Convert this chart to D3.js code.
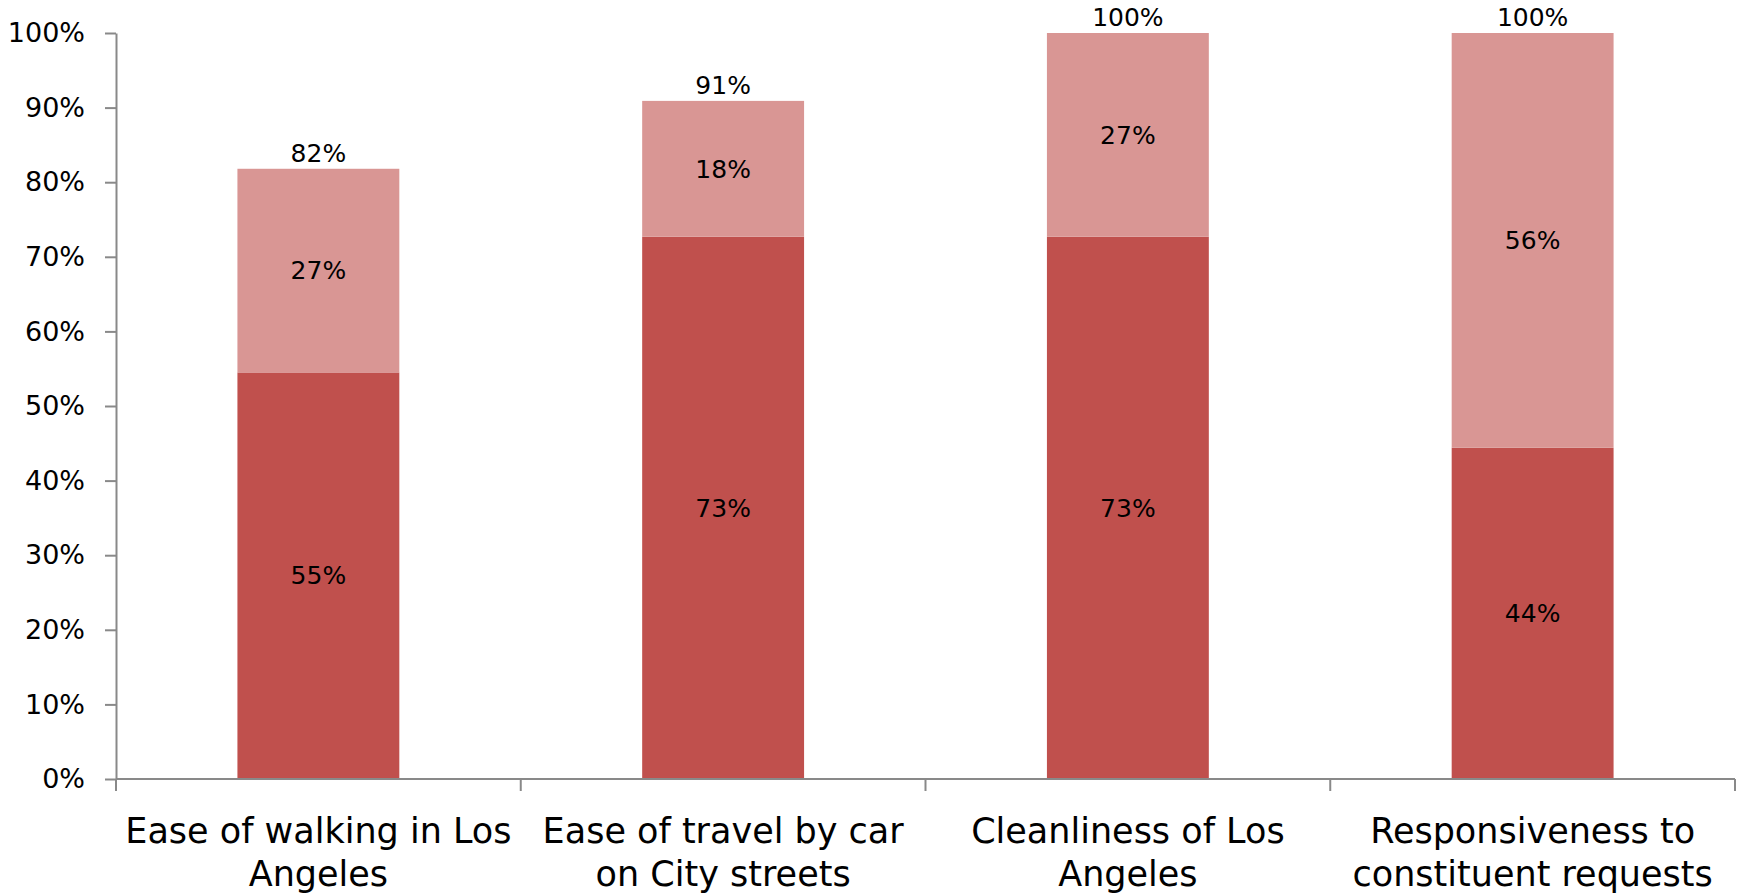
<!DOCTYPE html>
<html>
<head>
<meta charset="utf-8">
<script src="https://cdn.jsdelivr.net/npm/d3@7"></script>
<style>
  body { margin: 0; background: #fff; }
  svg text { font-family: "DejaVu Sans", sans-serif; fill: #000; }
</style>
</head>
<body>
<div id="chart"></div>
<script>
// data
const categories = [
  ["Ease of walking in Los", "Angeles"],
  ["Ease of travel by car", "on City streets"],
  ["Cleanliness of Los", "Angeles"],
  ["Responsiveness to", "constituent requests"]
];
const lowerValues = [54.5, 72.7, 72.7, 44.4];
const upperValues = [27.3, 18.2, 27.3, 55.6];
const yTicks = [0, 10, 20, 30, 40, 50, 60, 70, 80, 90, 100];

const lowerColor = "#c0504d";
const upperColor = "#d99694";
const axisColor = "#898989";

const outerWidth = 1743;
const outerHeight = 895;
const margin = { top: 33, right: 8, bottom: 116, left: 116 };
const width = outerWidth - margin.left - margin.right;
const height = outerHeight - margin.top - margin.bottom;

const svg = d3.select("#chart").append("svg")
  .attr("width", outerWidth)
  .attr("height", outerHeight)
  .append("g")
  .attr("transform", `translate(${margin.left},${margin.top})`);

const x = d3.scaleBand()
  .domain(d3.range(categories.length))
  .range([0, width])
  .paddingInner(0.6)
  .paddingOuter(0.3);

const y = d3.scaleLinear()
  .domain([0, 100])
  .range([height, 0]);

// bars
const rows = categories.map((c, i) => ({
  i: i,
  lower: lowerValues[i],
  upper: upperValues[i],
  total: lowerValues[i] + upperValues[i]
}));

const bars = svg.selectAll(".bar").data(rows).enter().append("g").attr("class", "bar");

bars.append("rect")
  .attr("x", d => x(d.i))
  .attr("width", x.bandwidth())
  .attr("y", d => y(d.lower))
  .attr("height", d => y(0) - y(d.lower))
  .attr("fill", lowerColor);

bars.append("rect")
  .attr("x", d => x(d.i))
  .attr("width", x.bandwidth())
  .attr("y", d => y(d.total))
  .attr("height", d => y(d.lower) - y(d.total))
  .attr("fill", upperColor);

const labelSize = 25;
bars.append("text")
  .attr("x", d => x(d.i) + x.bandwidth() / 2)
  .attr("y", d => y(d.lower / 2))
  .attr("dy", "0.35em")
  .attr("text-anchor", "middle")
  .style("font-size", labelSize + "px")
  .text(d => Math.round(d.lower) + "%");

bars.append("text")
  .attr("x", d => x(d.i) + x.bandwidth() / 2)
  .attr("y", d => y(d.lower + d.upper / 2))
  .attr("dy", "0.35em")
  .attr("text-anchor", "middle")
  .style("font-size", labelSize + "px")
  .text(d => Math.round(d.upper) + "%");

bars.append("text")
  .attr("x", d => x(d.i) + x.bandwidth() / 2)
  .attr("y", d => y(d.total) - 7)
  .attr("text-anchor", "middle")
  .style("font-size", labelSize + "px")
  .text(d => Math.round(d.total) + "%");

// y axis
const yAxis = d3.axisLeft(y)
  .tickValues(yTicks)
  .tickFormat(d => d + "%")
  .tickSizeInner(11)
  .tickSizeOuter(0)
  .tickPadding(20);

const gy = svg.append("g").call(yAxis);
gy.select(".domain").attr("stroke", axisColor).attr("stroke-width", 2);
gy.selectAll(".tick line").attr("stroke", axisColor).attr("stroke-width", 2);
gy.selectAll(".tick text").style("font-size", "27px").attr("fill", "#000");

// x axis: line plus ticks at category boundaries
const gx = svg.append("g").attr("transform", `translate(0,${height})`);
gx.append("line")
  .attr("x1", 0).attr("x2", width)
  .attr("stroke", axisColor).attr("stroke-width", 2);

const boundaries = d3.range(categories.length + 1).map(i => i * x.step());
gx.selectAll(".btick").data(boundaries).enter().append("line")
  .attr("x1", d => d).attr("x2", d => d)
  .attr("y1", 0).attr("y2", 12)
  .attr("stroke", axisColor).attr("stroke-width", 2);

const catText = gx.selectAll(".cat").data(categories).enter().append("text")
  .attr("text-anchor", "middle")
  .attr("transform", (d, i) => `translate(${x(i) + x.bandwidth() / 2},0)`)
  .style("font-size", "35px");

catText.selectAll("tspan").data(d => d).enter().append("tspan")
  .attr("x", 0)
  .attr("y", (d, j) => 64 + j * 43)
  .text(d => d);
</script>
</body>
</html>
